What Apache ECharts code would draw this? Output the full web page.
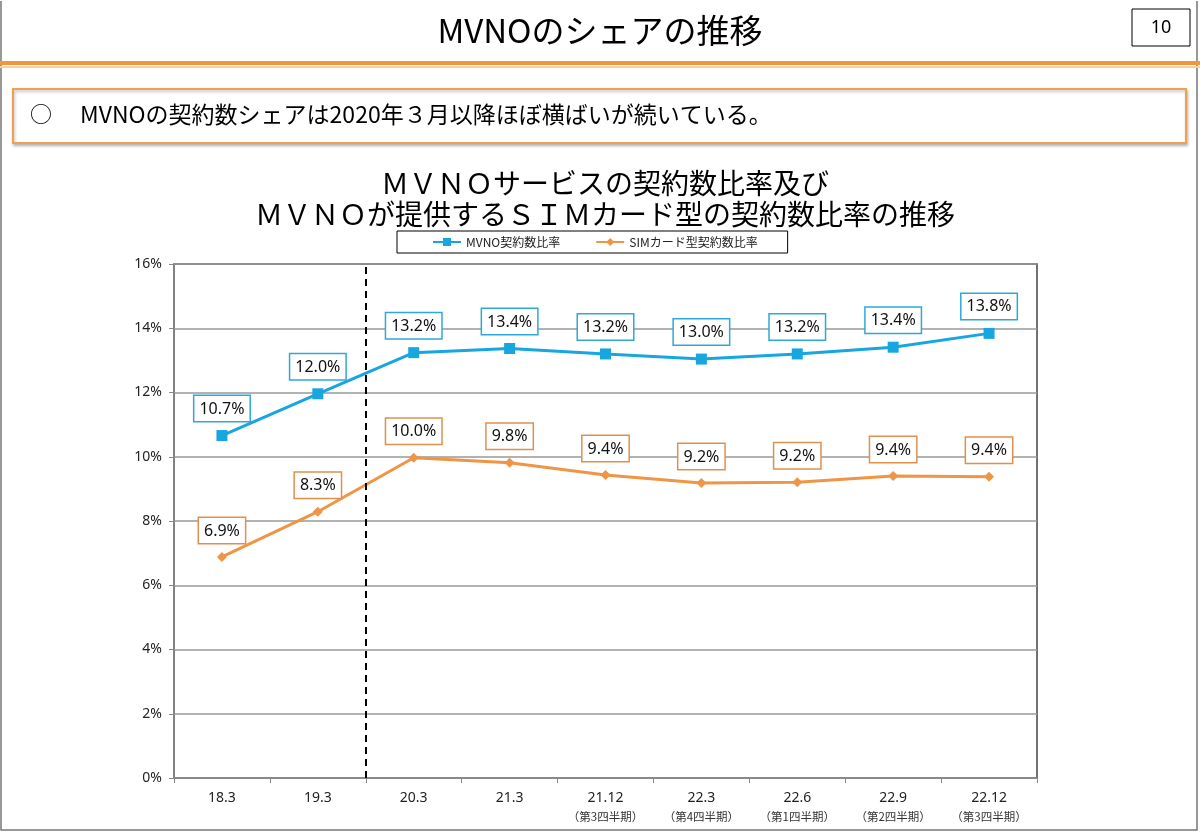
<!DOCTYPE html>
<html>
<head>
<meta charset="utf-8">
<script src="https://cdn.jsdelivr.net/npm/echarts@6/dist/echarts.min.js"></script>
<style>
  html, body { margin: 0; padding: 0; background: #fff; }
  #chart { width: 1200px; height: 832px; }
</style>
</head>
<body>
<div id="chart"></div>
<script>
const periods = ["18.3", "19.3", "20.3", "21.3", "21.12", "22.3", "22.6", "22.9", "22.12"];
const quarters = ["", "", "", "", "（第3四半期）", "（第4四半期）", "（第1四半期）", "（第2四半期）", "（第3四半期）"];
const mvnoShare = [10.66, 11.96, 13.24, 13.37, 13.2, 13.04, 13.2, 13.41, 13.84];
const simShare = [6.88, 8.29, 9.97, 9.81, 9.43, 9.18, 9.21, 9.4, 9.38];
const yTicks = { min: 0, max: 16, interval: 2 };
const splitIndex = 2; // 20.3 以降

const JP = '"Noto Sans CJK JP", "Noto Sans", sans-serif';
const NUM = '"Noto Sans", "Noto Sans CJK JP", sans-serif';
const BLUE = "#18a6e0", ORANGE = "#ef9546";

const chart = echarts.init(document.getElementById("chart"));

const pctLabel = (color) => ({
  show: true,
  position: "top",
  distance: 9,
  formatter: p => p.value.toFixed(1) + "%",
  color: "#111",
  fontFamily: NUM,
  fontSize: 16,
  backgroundColor: "#fff",
  borderColor: color,
  borderWidth: 1.5,
  padding: [5, 5, 4, 5]
});

chart.setOption({
  animation: false,
  title: [
    { text: "MVNOのシェアの推移", left: "center", top: 9,
      textStyle: { fontFamily: JP, fontSize: 33, fontWeight: "normal", color: "#000" } },
    { text: "ＭＶＮＯサービスの契約数比率及び\nＭＶＮＯが提供するＳＩＭカード型の契約数比率の推移",
      left: 600, top: 163, textAlign: "center",
      textStyle: { fontFamily: JP, fontSize: 28, fontWeight: "normal", color: "#000", lineHeight: 31 } }
  ],
  graphic: [
    { type: "rect", shape: { x: 1, y: 0, width: 1196, height: 830 }, silent: true,
      style: { fill: "none", stroke: "#777", lineWidth: 1.5 } },
    { type: "rect", shape: { x: 0, y: 0, width: 1200, height: 1 }, style: { fill: "#fff" } },
    { type: "rect", shape: { x: 1132, y: 9, width: 58, height: 37 },
      style: { fill: "#fff", stroke: "#000", lineWidth: 1 } },
    { type: "text", x: 1161, y: 28, style: { text: "10", fontFamily: NUM, fontSize: 18,
      fill: "#000", align: "center", verticalAlign: "middle" } },
    { type: "rect", shape: { x: 0, y: 61, width: 1200, height: 4 }, style: { fill: "#f0963c" } },
    { type: "rect", shape: { x: 0, y: 66, width: 1200, height: 2 }, style: { fill: "#f9cfa4" } },
    { type: "rect", shape: { x: 13, y: 89, width: 1173, height: 54 },
      style: { fill: "#fff", stroke: "#f0a055", lineWidth: 2,
        shadowColor: "rgba(0,0,0,0.25)", shadowBlur: 3, shadowOffsetX: 1, shadowOffsetY: 2 } },
    { type: "text", x: 41, y: 114, style: { text: "○", fontFamily: JP, fontSize: 22,
      fill: "#000", align: "center", verticalAlign: "middle" } },
    { type: "text", x: 80, y: 114, style: { text: "MVNOの契約数シェアは2020年３月以降ほぼ横ばいが続いている。",
      fontFamily: JP, fontSize: 23, fill: "#000", verticalAlign: "middle" } }
  ],
  legend: {
    left: 397, top: 231,
    itemWidth: 28, itemHeight: 10, itemGap: 35,
    padding: [5, 30, 5, 35],
    borderColor: "#000", borderWidth: 1,
    textStyle: { fontFamily: JP, fontSize: 12, color: "#222" },
    data: ["MVNO契約数比率", "SIMカード型契約数比率"]
  },
  grid: { left: 174, right: 163, top: 264, bottom: 54, show: true,
    borderColor: "#444", borderWidth: 1.5, backgroundColor: "transparent" },
  xAxis: [
    {
      type: "category", data: periods, boundaryGap: true,
      axisLine: { lineStyle: { color: "#888", width: 1.5 } },
      axisTick: { show: true, interval: 0, length: 5, lineStyle: { color: "#888" } },
      axisLabel: {
        interval: 0, margin: 11,
        formatter: (v, i) => quarters[i] ? `{a|${v}}\n{b|${quarters[i]}}` : `{a|${v}}`,
        rich: {
          a: { fontFamily: NUM, fontSize: 14, color: "#222", lineHeight: 19 },
          b: { fontFamily: JP, fontSize: 11.5, color: "#333", lineHeight: 17 }
        }
      }
    },
    { type: "value", min: 0, max: periods.length, show: false }
  ],
  yAxis: {
    type: "value", min: yTicks.min, max: yTicks.max, interval: yTicks.interval,
    axisLine: { show: true, lineStyle: { color: "#888", width: 1.5 } },
    axisTick: { show: true, length: 5, lineStyle: { color: "#888" } },
    axisLabel: { formatter: "{value}%", margin: 12, fontFamily: NUM, fontSize: 14, color: "#222" },
    splitLine: { lineStyle: { color: "#999", width: 1.5 } }
  },
  series: [
    {
      name: "MVNO契約数比率", type: "line", data: mvnoShare,
      symbol: "rect", symbolSize: 11,
      lineStyle: { color: BLUE, width: 3 }, itemStyle: { color: BLUE },
      label: pctLabel("#2fa8d8"), z: 3
    },
    {
      name: "SIMカード型契約数比率", type: "line", data: simShare,
      symbol: "diamond", symbolSize: 10,
      lineStyle: { color: ORANGE, width: 3 }, itemStyle: { color: ORANGE },
      label: pctLabel("#e0904c"), z: 3
    },
    {
      type: "line", xAxisIndex: 1, data: [], silent: true,
      markLine: {
        symbol: "none", silent: true, animation: false,
        label: { show: false },
        lineStyle: { type: [7, 5], color: "#000", width: 2 },
        data: [{ xAxis: splitIndex }]
      }
    }
  ]
});
</script>
</body>
</html>
